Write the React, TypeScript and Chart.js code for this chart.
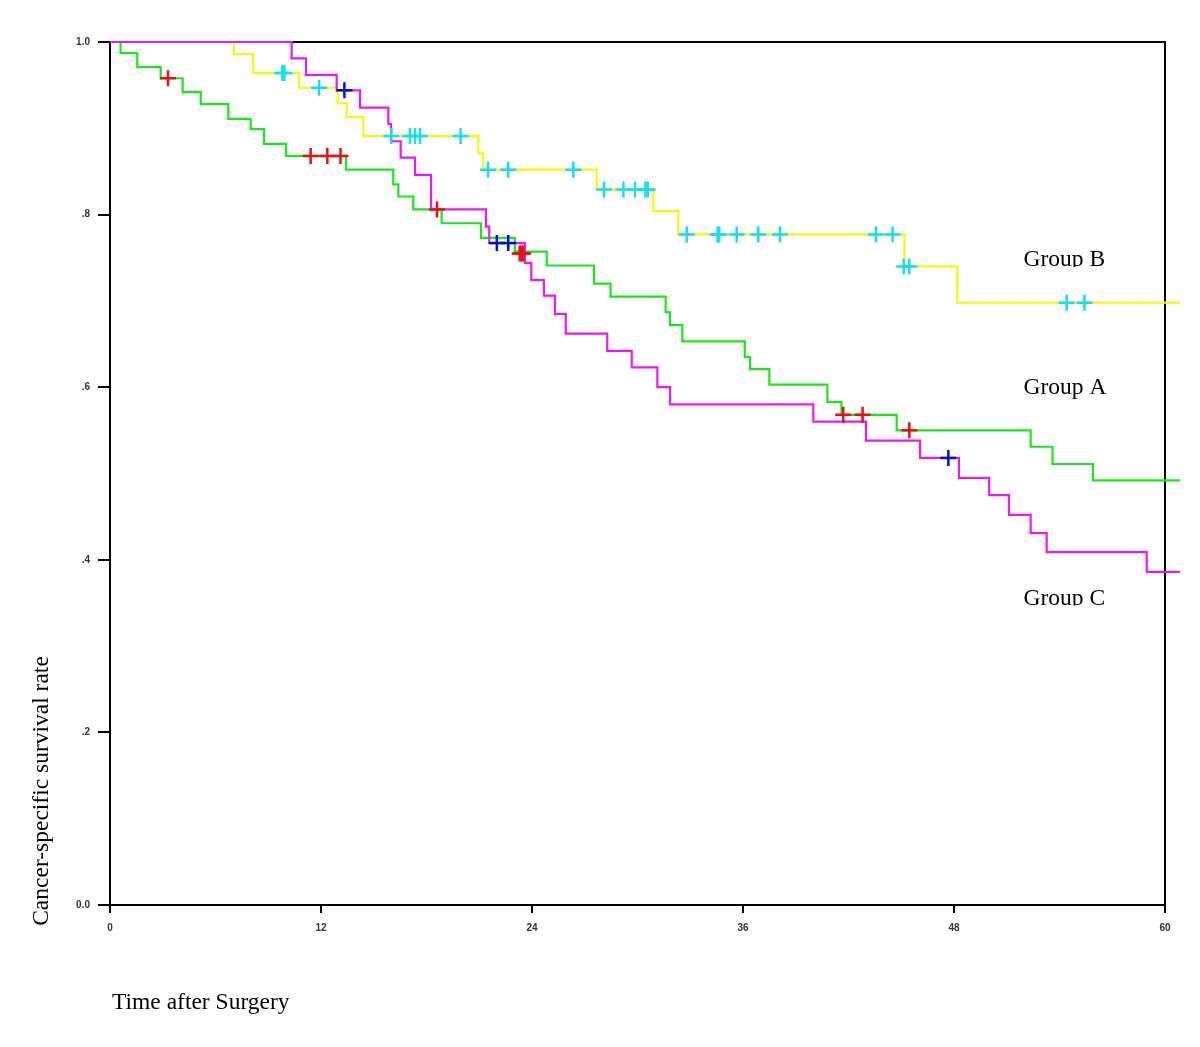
import React, { useEffect, useRef } from "react";
import { Chart, registerables } from "chart.js";

Chart.register(...registerables);

// Group A (green line, red censor marks)
const groupATimes = [0, 0.6, 1.55, 2.88, 4.13, 5.16, 6.73, 8.0, 8.76, 10.0, 13.42, 16.11, 16.4, 17.25, 18.86, 21.1, 23.03, 24.84, 27.53, 28.47, 31.6, 31.85, 32.55, 36.1, 36.4, 37.5, 40.8, 41.6, 44.74, 52.36, 53.6, 55.9, 60.85];
const groupASurv = [1, 0.987, 0.971, 0.958, 0.942, 0.928, 0.911, 0.899, 0.882, 0.868, 0.852, 0.835, 0.821, 0.806, 0.79, 0.773, 0.757, 0.741, 0.72, 0.705, 0.687, 0.672, 0.653, 0.635, 0.621, 0.603, 0.583, 0.568, 0.55, 0.531, 0.511, 0.492, 0.492];
const groupACensorTimes = [3.3, 11.41, 12.36, 13.11, 18.6, 23.3, 23.4, 23.5, 41.7, 42.8, 45.46];
const groupACensorSurv = [0.958, 0.868, 0.868, 0.868, 0.806, 0.755, 0.755, 0.755, 0.568, 0.568, 0.55];

// Group B (yellow line, cyan censor marks)
const groupBTimes = [0, 7.05, 8.15, 10.75, 12.95, 13.46, 14.41, 20.95, 21.23, 27.68, 30.9, 32.32, 45.18, 48.19, 60.85];
const groupBSurv = [1, 0.986, 0.964, 0.947, 0.929, 0.913, 0.891, 0.871, 0.852, 0.829, 0.804, 0.777, 0.74, 0.698, 0.698];
const groupBCensorTimes = [9.8, 9.92, 11.89, 16.0, 17.06, 17.35, 17.63, 19.94, 21.5, 22.65, 26.35, 28.1, 29.2, 29.86, 30.45, 30.58, 32.8, 34.55, 34.65, 35.64, 36.87, 38.1, 43.56, 44.51, 45.14, 45.46, 54.41, 55.42];
const groupBCensorSurv = [0.964, 0.964, 0.947, 0.891, 0.891, 0.891, 0.891, 0.891, 0.852, 0.852, 0.852, 0.829, 0.829, 0.829, 0.829, 0.829, 0.777, 0.777, 0.777, 0.777, 0.777, 0.777, 0.777, 0.777, 0.74, 0.74, 0.698, 0.698];

// Group C (magenta line, blue censor marks)
const groupCTimes = [0, 10.33, 11.15, 12.89, 14.22, 15.83, 15.98, 16.53, 17.35, 18.26, 21.38, 21.57, 23.6, 23.96, 24.68, 25.3, 25.92, 28.28, 29.67, 31.13, 31.85, 40.0, 43.0, 46.07, 48.28, 50.0, 51.13, 52.36, 53.27, 58.96, 60.85];
const groupCSurv = [1, 0.981, 0.962, 0.944, 0.924, 0.905, 0.885, 0.866, 0.846, 0.806, 0.786, 0.767, 0.744, 0.724, 0.706, 0.685, 0.662, 0.642, 0.623, 0.6, 0.58, 0.56, 0.538, 0.518, 0.495, 0.475, 0.452, 0.431, 0.409, 0.386, 0.386];
const groupCCensorTimes = [13.33, 22.0, 22.65, 47.68];
const groupCCensorSurv = [0.944, 0.767, 0.767, 0.518];

const xTicks = [0, 12, 24, 36, 48, 60];
const yTickLabels: Record<string, string> = { "0": "0.0", "0.2": ".2", "0.4": ".4", "0.6": ".6", "0.8": ".8", "1": "1.0" };

const groupLabels = ["Group B", "Group A", "Group C"];
const groupLabelX = [51.95, 51.95, 51.95];
const groupLabelY = [0.74, 0.592, 0.3476];
const groupLabelClip = [true, false, true];

const toPoints = (xs: number[], ys: number[]) => xs.map((x, i) => ({ x, y: ys[i] }));

export default function App() {
  const ref = useRef<HTMLCanvasElement | null>(null);

  useEffect(() => {
    if (!ref.current) return;
    const serif = "'Liberation Serif', 'Times New Roman', serif";

    const framePlugin = {
      id: "frameAndText",
      beforeDatasetsDraw(chart: any) {
        const { ctx, chartArea: a } = chart;
        ctx.save();
        ctx.strokeStyle = "#000";
        ctx.lineWidth = 2;
        ctx.beginPath();
        ctx.moveTo(a.left, a.top);
        ctx.lineTo(a.right, a.top);
        ctx.lineTo(a.right, a.bottom);
        ctx.stroke();
        ctx.restore();
      },
      afterDraw(chart: any) {
        const { ctx, scales } = chart;
        ctx.save();
        ctx.fillStyle = "#000";
        ctx.font = `23.5px ${serif}`;
        ctx.textBaseline = "alphabetic";
        ctx.textAlign = "left";
        groupLabels.forEach((lab, i) => {
          const px = scales.x.getPixelForValue(groupLabelX[i]);
          const py = scales.y.getPixelForValue(groupLabelY[i]);
          ctx.save();
          if (groupLabelClip[i]) {
            ctx.beginPath();
            ctx.rect(px - 5, py - 40, 200, 40.5);
            ctx.clip();
          }
          ctx.fillText(lab, px, py);
          ctx.restore();
        });

        ctx.fillText("Time after Surgery", 112, 1009);

        ctx.save();
        ctx.translate(42, 791);
        ctx.rotate(-Math.PI / 2);
        ctx.textAlign = "center";
        ctx.textBaseline = "middle";
        ctx.fillText("Cancer-specific survival rate", 0, 0);
        ctx.restore();
        ctx.restore();
      },
    };

    const lineDs = (label: string, xs: number[], ys: number[], color: string, order: number) => ({
      type: "line" as const,
      label,
      data: toPoints(xs, ys),
      borderColor: color,
      backgroundColor: color,
      borderWidth: 2.2,
      stepped: "before" as const,
      pointRadius: 0,
      fill: false,
      clip: false as any,
      order,
    });
    const censorDs = (label: string, xs: number[], ys: number[], color: string) => ({
      type: "line" as const,
      label,
      data: toPoints(xs, ys),
      showLine: false,
      borderColor: color,
      backgroundColor: color,
      pointStyle: "cross" as const,
      pointRadius: 8,
      pointBorderWidth: 2.5,
      pointBorderColor: color,
      clip: false as any,
      order: 0,
    });

    const chart = new Chart(ref.current, {
      type: "line",
      data: {
        datasets: [
          censorDs("Group A censored", groupACensorTimes, groupACensorSurv, "#e81010"),
          censorDs("Group B censored", groupBCensorTimes, groupBCensorSurv, "#10e0f0"),
          censorDs("Group C censored", groupCCensorTimes, groupCCensorSurv, "#0010d0"),
          lineDs("Group A", groupATimes, groupASurv, "#18e818", 3),
          lineDs("Group B", groupBTimes, groupBSurv, "#f8f800", 2),
          lineDs("Group C", groupCTimes, groupCSurv, "#ee18ee", 1),
        ] as any,
      },
      options: {
        animation: false,
        responsive: false,
        maintainAspectRatio: false,
        layout: { padding: { left: 0, top: 42, right: 35, bottom: 0 } },
        plugins: { legend: { display: false }, tooltip: { enabled: false } },
        scales: {
          x: {
            type: "linear",
            min: 0,
            max: 60,
            afterBuildTicks: (s: any) => {
              s.ticks = xTicks.map((v) => ({ value: v }));
            },
            afterFit: (s: any) => {
              s.height = 142;
            },
            ticks: {
              padding: 9,
              color: "#333",
              font: { family: "'Liberation Sans', Arial, sans-serif", size: 10, weight: "bold" },
              callback: (v: any) => String(v),
            },
            grid: { drawOnChartArea: false, drawTicks: true, tickLength: 8, color: "#000", lineWidth: 2 },
            border: { display: true, color: "#000", width: 2 },
          },
          y: {
            type: "linear",
            min: 0,
            max: 1,
            ticks: {
              stepSize: 0.2,
              padding: 8,
              color: "#333",
              font: { family: "'Liberation Sans', Arial, sans-serif", size: 10, weight: "bold" },
              callback: (v: any) => yTickLabels[String(Math.round(Number(v) * 10) / 10)] ?? "",
            },
            afterFit: (s: any) => {
              s.width = 110;
            },
            grid: { drawOnChartArea: false, drawTicks: true, tickLength: 12, color: "#000", lineWidth: 2 },
            border: { display: true, color: "#000", width: 2 },
          },
        },
      } as any,
      plugins: [framePlugin],
    });
    return () => chart.destroy();
  }, []);

  return (
    <div style={{ position: "absolute", left: 0, top: 0, width: 1200, height: 1047, background: "#fff" }}>
      <canvas ref={ref} width={1200} height={1047} style={{ width: 1200, height: 1047, display: "block" }} />
    </div>
  );
}
